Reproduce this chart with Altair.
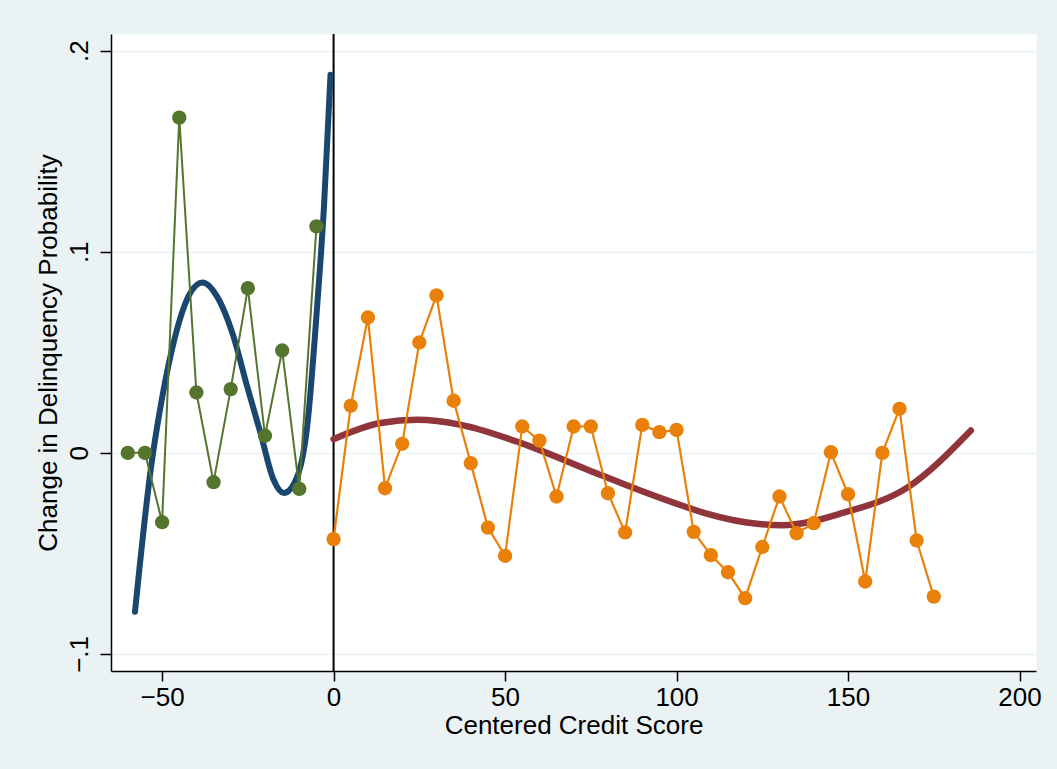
import altair as alt
import pandas as pd

# Binned means (left of cutoff)
green_x = [-60, -55, -50, -45, -40, -35, -30, -25, -20, -15, -10, -5]
green_y = [0.0, 0.0, -0.0345, 0.1667, 0.0300, -0.0146, 0.0317, 0.0819, 0.0085, 0.0509, -0.0179, 0.1126]

# Binned means (right of cutoff)
orange_x = [0, 5, 10, 15, 20, 25, 30, 35, 40, 45, 50, 55, 60, 65, 70, 75, 80, 85,
            90, 95, 100, 105, 110, 115, 120, 125, 130, 135, 140, 145, 150, 155, 160, 165, 170, 175]
orange_y = [-0.0429, 0.0234, 0.0673, -0.0176, 0.0045, 0.0549, 0.0783, 0.0259, -0.0051, -0.0372,
            -0.0512, 0.0131, 0.0061, -0.0217, 0.0131, 0.0131, -0.0201, -0.0396, 0.0139, 0.0103,
            0.0114, -0.0393, -0.0509, -0.0594, -0.0723, -0.0468, -0.0217, -0.0400, -0.0350, 0.0003,
            -0.0206, -0.0640, 0.0000, 0.0219, -0.0436, -0.0715]

# Polynomial fit left
blue_x = [-57.9, -53.2, -50.1, -46.2, -41.8, -38.2, -34.0, -29.2, -25.2, -21.3, -17.5, -14.5,
          -10.6, -7.7, -4.8, -2.8, -0.9]
blue_y = [-0.079, -0.0068, 0.0264, 0.0579, 0.0795, 0.0847, 0.0778, 0.0579, 0.033, 0.0098,
          -0.0134, -0.020, -0.0118, 0.0131, 0.0728, 0.1225, 0.188]

# Polynomial fit right
red_x = [0.0, 13.7, 24.5, 37.1, 54.7, 74.2, 89.8, 101.5, 109.3, 120.0, 130.7, 148.2, 167.7, 185.8]
red_y = [0.0068, 0.0148, 0.0164, 0.0139, 0.0048, -0.0085, -0.0190, -0.0262, -0.0305, -0.0345,
         -0.0360, -0.030, -0.0168, 0.0111]

x_ticks = [-50, 0, 50, 100, 150, 200]
y_ticks = [-0.1, 0, 0.1, 0.2]
cutoff = [0]

FONT = "Liberation Sans"
xscale = alt.Scale(domain=[-64.9, 204.8], nice=False, zero=False)
yscale = alt.Scale(domain=[-0.1085, 0.2083], nice=False, zero=False)

xaxis = alt.Axis(values=x_ticks, title="Centered Credit Score", grid=False,
                 tickSize=10, tickColor="black", tickWidth=1.5,
                 domainColor="black", domainWidth=1.5,
                 labelFont=FONT, labelFontSize=26, labelColor="black", labelPadding=3,
                 titleFont=FONT, titleFontSize=26, titleFontWeight="normal",
                 titleColor="black", titlePadding=2)
yaxis = alt.Axis(values=y_ticks, title="Change in Delinquency Probability", grid=True,
                 gridColor="#EAF2F3", gridWidth=1.5,
                 tickSize=11, tickColor="black", tickWidth=1.5,
                 domainColor="black", domainWidth=1.5,
                 labelAngle=270, labelFont=FONT, labelFontSize=26, labelColor="black",
                 labelPadding=8,
                 labelExpr="datum.value == 0 ? '0' : replace(format(datum.value, '.1f'), '0.', '.')",
                 titleFont=FONT, titleFontSize=26, titleFontWeight="normal",
                 titleColor="black", titlePadding=5)

green = pd.DataFrame({"x": green_x, "y": green_y})
orange = pd.DataFrame({"x": orange_x, "y": orange_y})
blue = pd.DataFrame({"x": blue_x, "y": blue_y})
red = pd.DataFrame({"x": red_x, "y": red_y})
rule_df = pd.DataFrame({"x": cutoff})

rule = alt.Chart(rule_df).mark_rule(color="black", strokeWidth=2).encode(
    x=alt.X("x:Q", scale=xscale, axis=xaxis))

blue_line = alt.Chart(blue).mark_line(color="#1A476F", strokeWidth=6, strokeCap="round",
                                      interpolate="monotone").encode(
    x=alt.X("x:Q", scale=xscale, axis=xaxis), y=alt.Y("y:Q", scale=yscale, axis=yaxis))
red_line = alt.Chart(red).mark_line(color="#90353B", strokeWidth=6.5, strokeCap="round",
                                    interpolate="monotone").encode(
    x=alt.X("x:Q", scale=xscale), y=alt.Y("y:Q", scale=yscale))

green_line = alt.Chart(green).mark_line(color="#55752F", strokeWidth=2).encode(
    x=alt.X("x:Q", scale=xscale), y=alt.Y("y:Q", scale=yscale))
green_pts = alt.Chart(green).mark_circle(color="#55752F", size=205, opacity=1).encode(
    x=alt.X("x:Q", scale=xscale), y=alt.Y("y:Q", scale=yscale))
orange_line = alt.Chart(orange).mark_line(color="#E8800A", strokeWidth=2.2).encode(
    x=alt.X("x:Q", scale=xscale), y=alt.Y("y:Q", scale=yscale))
orange_pts = alt.Chart(orange).mark_circle(color="#E8800A", size=205, opacity=1).encode(
    x=alt.X("x:Q", scale=xscale), y=alt.Y("y:Q", scale=yscale))

chart = alt.layer(rule, blue_line, red_line, green_line, green_pts, orange_line, orange_pts).properties(
    width=925, height=637,
    background="#EAF2F3",
    autosize=alt.AutoSizeParams(type="none"),
    padding={"left": 111, "top": 34, "right": 21, "bottom": 98},
).configure_view(fill="white", stroke="transparent")

chart.save("out.html", embed_options={"renderer": "svg", "actions": False})
